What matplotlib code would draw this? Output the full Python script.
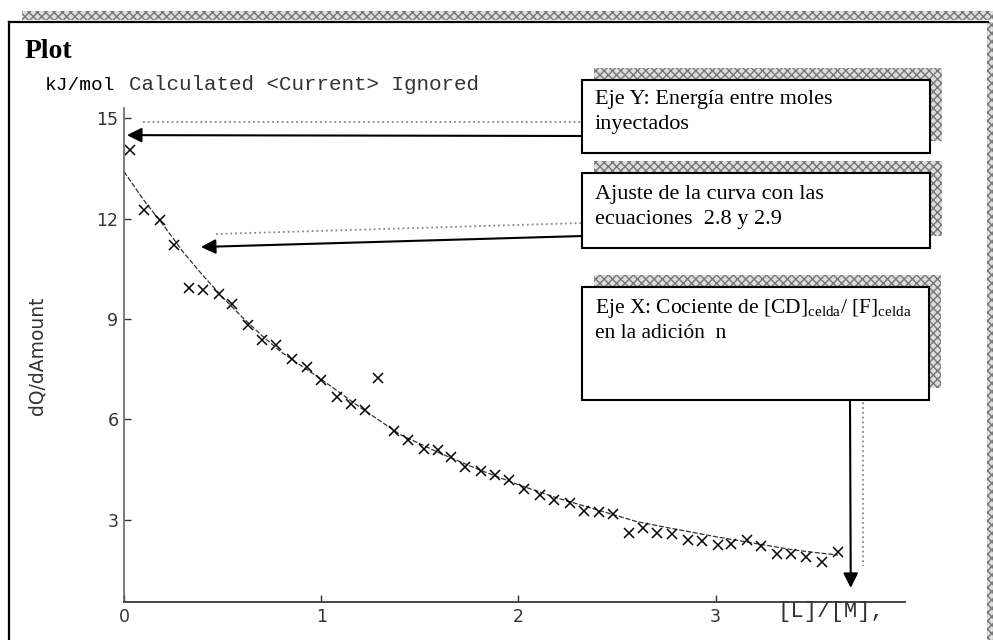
import matplotlib.pyplot as plt
from matplotlib.patches import Rectangle
from matplotlib.lines import Line2D

W, H = 993, 640

# measured points (dQ/dAmount vs [L]/[M])
x_obs = [0.03, 0.10, 0.18, 0.255, 0.33, 0.40, 0.48, 0.55, 0.63, 0.70, 0.77, 0.85,
         0.93, 1.00, 1.08, 1.15, 1.22, 1.29, 1.37, 1.44, 1.52, 1.59, 1.66, 1.73,
         1.81, 1.88, 1.95, 2.03, 2.11, 2.18, 2.26, 2.33, 2.41, 2.48, 2.56, 2.63,
         2.70, 2.78, 2.86, 2.93, 3.01, 3.08, 3.16, 3.23, 3.31, 3.38, 3.46, 3.54, 3.62]
y_obs = [14.05, 12.24, 11.97, 11.2, 9.92, 9.86, 9.74, 9.44, 8.82, 8.38, 8.23, 7.81,
         7.57, 7.19, 6.68, 6.45, 6.27, 7.25, 5.67, 5.38, 5.11, 5.08, 4.87, 4.57,
         4.46, 4.34, 4.19, 3.92, 3.74, 3.59, 3.50, 3.27, 3.24, 3.18, 2.61, 2.76,
         2.61, 2.58, 2.41, 2.38, 2.26, 2.29, 2.41, 2.23, 1.99, 1.99, 1.90, 1.75, 2.05]

# fitted curve
x_fit = [0.0, 0.1, 0.2, 0.3, 0.4, 0.5, 0.6, 0.7, 0.8, 0.9, 1.0, 1.2, 1.4, 1.6,
         1.8, 2.0, 2.2, 2.4, 2.6, 2.8, 3.0, 3.2, 3.4, 3.62]
y_fit = [13.4, 12.55, 11.8, 11.0, 10.3, 9.65, 9.05, 8.5, 8.0, 7.6, 7.2, 6.35, 5.55, 5.0,
         4.5, 4.05, 3.65, 3.3, 2.95, 2.72, 2.5, 2.3, 2.1, 1.95]

x_ticks = [0, 1, 2, 3]
y_ticks = [3, 6, 9, 12, 15]

plt.rcParams['mathtext.fontset'] = 'custom'
plt.rcParams['mathtext.rm'] = 'Liberation Serif'
plt.rcParams['hatch.linewidth'] = 1.0


def fx(p):
    return p / W


def fy(p):
    return 1 - p / H


fig = plt.figure(figsize=(W / 100, H / 100), dpi=100)
ax = fig.add_axes([fx(124), fy(602), 781 / W, 494 / H])

ax.plot(x_fit, y_fit, color='#333333', lw=0.9, ls=(0, (4, 1.5)))
ax.plot(x_obs, y_obs, 'x', color='black', ms=7, mew=1.1)

ax.set_xlim(0, 3.96)
ax.set_ylim(0.55, 15.3)
ax.set_xticks(x_ticks)
ax.set_yticks(y_ticks)
ax.tick_params(direction='in', length=5, width=1, colors='#333333', labelsize=12.5, pad=4)
for s in ['top', 'right']:
    ax.spines[s].set_visible(False)
ax.spines['left'].set_color('#666666')
ax.spines['bottom'].set_color('#444444')
ax.spines['left'].set_linewidth(1.2)
ax.spines['bottom'].set_linewidth(1.4)

# outer frame
hatch_kw = dict(transform=fig.transFigure, facecolor='#dddddd', edgecolor='#777777',
                hatch='xxxx', lw=0)
fig.add_artist(Rectangle((fx(22), fy(20)), (993 - 22) / W, 9 / H, **hatch_kw))
fig.add_artist(Rectangle((fx(987), 0), 6 / W, fy(22), **hatch_kw))
fig.add_artist(Line2D([fx(9), fx(988)], [fy(22), fy(22)], color='black', lw=1.6))
fig.add_artist(Line2D([fx(9), fx(9)], [fy(22), 0], color='black', lw=1.6))

fig.text(fx(25), fy(58), 'Plot', family='Liberation Serif', weight='bold', fontsize=20)
fig.text(fx(45), fy(90), 'kJ/mol', family='Liberation Mono', fontsize=14, color='black')
fig.text(fx(129), fy(90), 'Calculated <Current> Ignored', family='Liberation Mono',
         fontsize=15, color='#333333')
fig.text(fx(37), fy(356), 'dQ/dAmount', rotation=90, ha='center', va='center',
         fontsize=13.5, color='#333333')
fig.text(fx(777), fy(612), '[L]/[M],', family='Liberation Mono', fontsize=16,
         va='center', color='#333333')


def box(x0, y0, x1, y1, lines, baselines, size=16):
    fig.add_artist(Rectangle((fx(x0 + 12), fy(y1 - 12)), (x1 - x0) / W, (y1 - y0) / H,
                             zorder=5, **hatch_kw))
    fig.add_artist(Rectangle((fx(x0), fy(y1)), (x1 - x0) / W, (y1 - y0) / H,
                             transform=fig.transFigure, facecolor='white',
                             edgecolor='black', lw=1.5, zorder=6))
    for t, b in zip(lines, baselines):
        fig.text(fx(x0 + 13), fy(b), t, family='Liberation Serif', fontsize=size,
                 va='baseline', zorder=7)


box(582, 80, 930, 153, ['Eje Y: Energía entre moles', 'inyectados'], [104, 129])
box(582, 173, 930, 248, ['Ajuste de la curva con las', 'ecuaciones  2.8 y 2.9'], [199, 224])
box(582, 287, 929, 400,
    [r'Eje X: Cociente de [CD]$_{\mathrm{celda}}$/ [F]$_{\mathrm{celda}}$',
     'en la adición  n'], [313, 338], size=15.5)

# faint ghost arrows
ghost = dict(color='#888888', ls=':', lw=1.3)
fig.add_artist(Line2D([fx(143), fx(583)], [fy(122), fy(122)], **ghost))
fig.add_artist(Line2D([fx(216), fx(583)], [fy(234), fy(223)], **ghost))
fig.add_artist(Line2D([fx(863), fx(863)], [fy(388), fy(566)], **ghost))

# arrows to the axes
arrow = dict(arrowstyle='-|>', color='black', lw=1.5, mutation_scale=22,
             shrinkA=0, shrinkB=0)
ax.annotate('', xy=(0.015, 14.49), xytext=(fx(583), fy(136)),
            textcoords='figure fraction', arrowprops=arrow, annotation_clip=False)
ax.annotate('', xy=(0.39, 11.15), xytext=(fx(583), fy(236)),
            textcoords='figure fraction', arrowprops=arrow, annotation_clip=False)
ax.annotate('', xy=(3.685, 0.97), xytext=(fx(850), fy(400)),
            textcoords='figure fraction', arrowprops=arrow, annotation_clip=False)

plt.savefig('out.png', dpi=100)
